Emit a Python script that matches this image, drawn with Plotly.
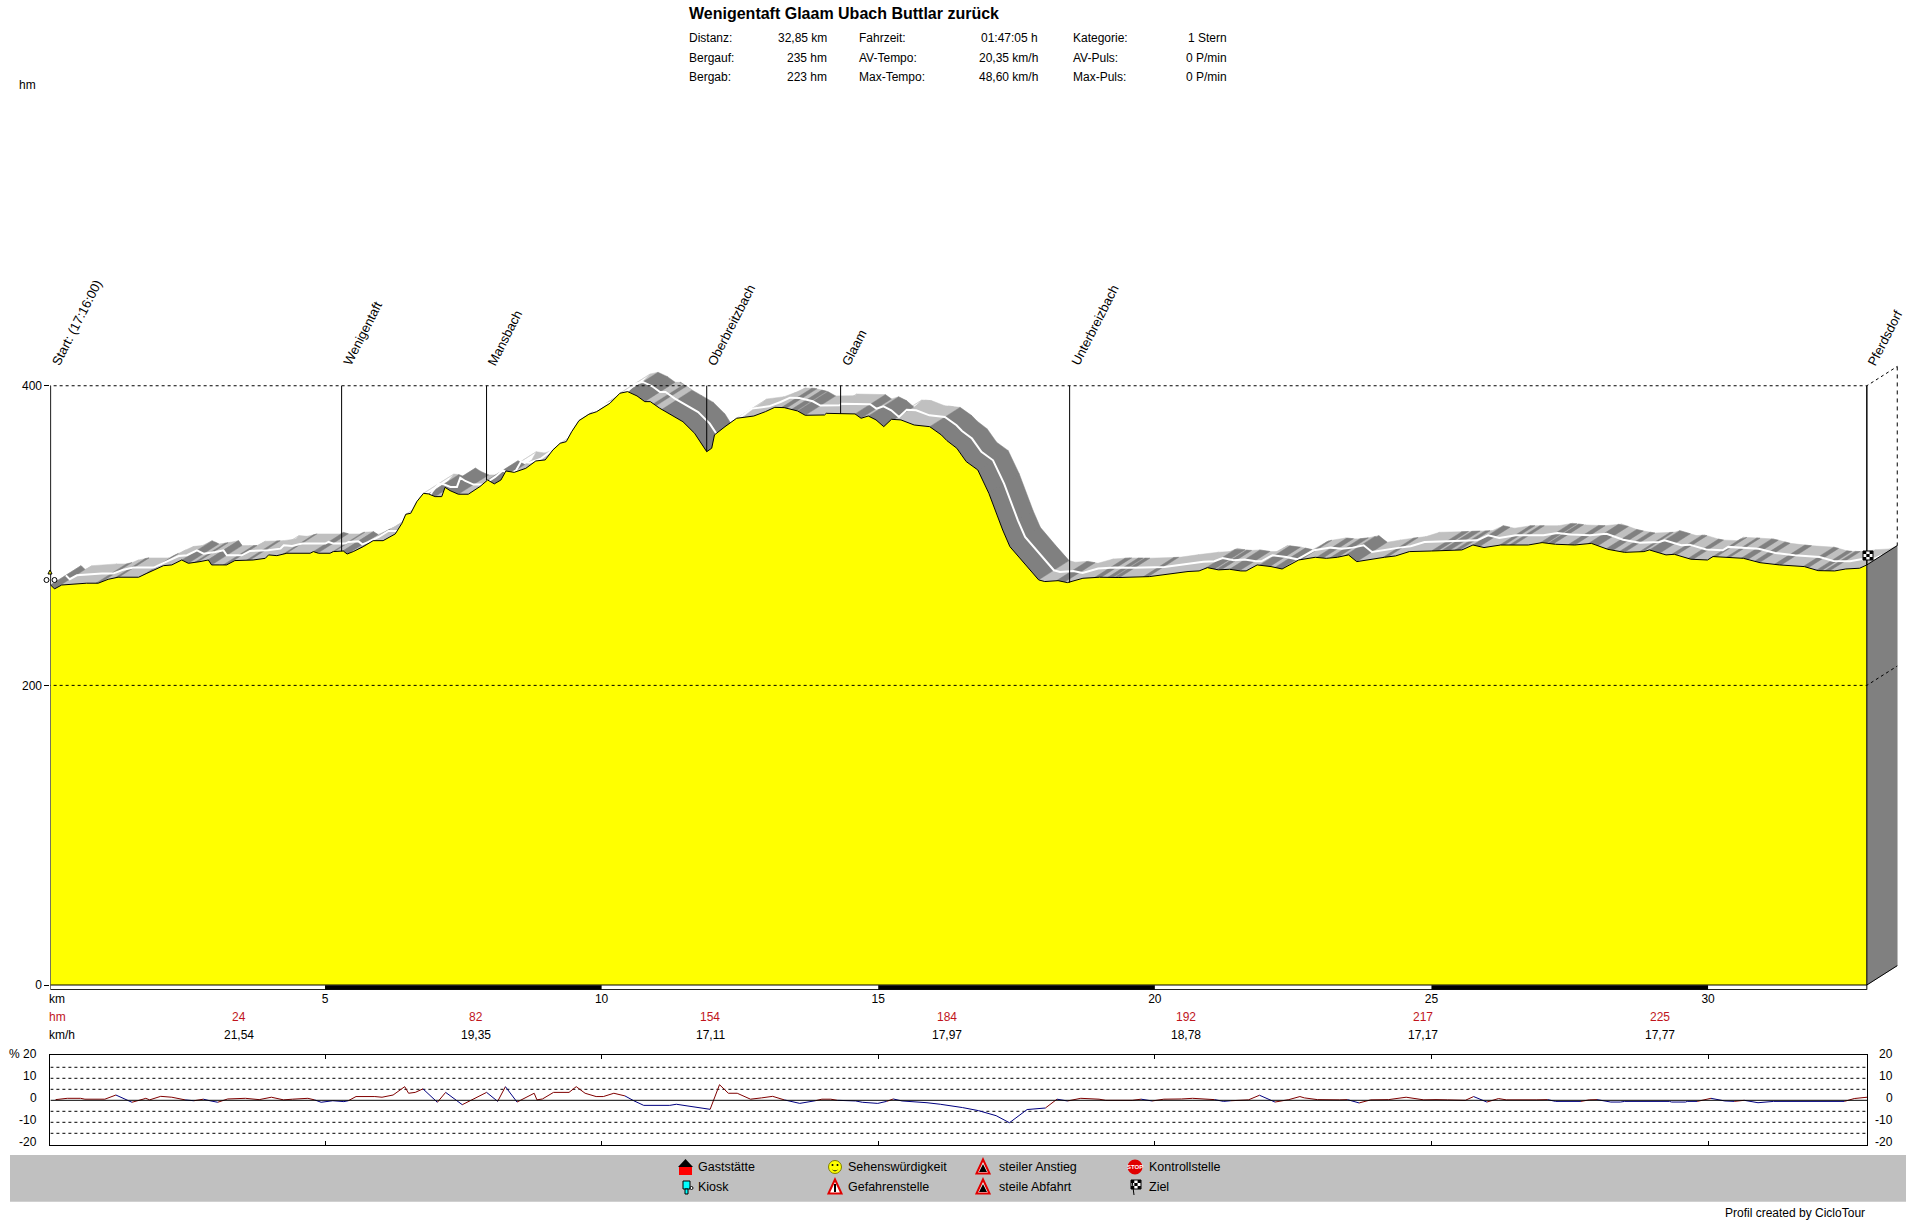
import numpy as np
import plotly.graph_objects as go

W, H = 1916, 1220
FONT = "Liberation Sans"

# ---------- data ----------
km = [0.04,0.11,0.24,0.69,0.90,1.08,1.26,1.63,1.78,1.93,2.08,2.23,2.41,2.53,2.62,2.74,2.89,2.95,3.10,3.22,3.37,3.70,3.92,3.98,4.13,4.31,4.73,4.79,4.88,5.09,5.15,5.33,5.40,5.51,5.69,5.87,6.05,6.27,6.39,6.46,6.55,6.66,6.78,6.87,6.99,7.11,7.17,7.26,7.41,7.59,7.80,7.94,8.06,8.18,8.27,8.42,8.63,8.81,8.98,9.12,9.25,9.36,9.46,9.59,9.77,9.91,10.15,10.33,10.47,10.64,10.78,10.88,11.05,11.26,11.47,11.68,11.81,11.90,11.99,12.04,12.23,12.44,12.75,12.96,13.13,13.30,13.54,13.68,14.03,14.06,14.58,14.69,14.82,14.96,15.10,15.24,15.41,15.65,15.93,16.14,16.24,16.42,16.59,16.80,17.00,17.25,17.38,17.66,17.90,18.01,18.25,18.42,18.70,19.00,19.35,19.90,20.25,20.60,20.80,20.95,21.15,21.35,21.55,21.65,21.85,22.10,22.30,22.60,22.90,23.10,23.30,23.50,23.65,23.90,24.15,24.35,24.60,25.00,25.55,25.75,25.95,26.25,26.75,27.00,27.24,27.59,27.89,28.19,28.49,28.84,28.94,29.24,29.39,29.69,29.99,30.09,30.34,30.64,30.94,31.29,31.74,31.99,32.29,32.49,32.74,32.87]
elevation = [267.0,264.4,267.0,268.2,268.2,270.8,272.2,272.2,274.8,277.5,279.9,280.4,283.7,281.5,281.9,282.6,283.7,280.4,280.4,280.4,283.3,283.7,284.8,287.1,286.6,288.2,288.2,289.3,288.2,288.2,289.3,289.7,287.7,289.3,292.6,296.6,296.6,301.1,308.2,314.2,314.9,322.7,328.2,327.8,326.0,326.0,332.2,330.0,327.6,327.6,332.7,337.1,334.5,337.1,343.1,342.2,344.9,349.8,350.5,357.2,361.6,362.7,369.4,376.7,381.0,382.7,388.3,395.0,396.1,393.2,389.4,389.4,385.0,380.5,376.0,368.3,360.5,356.0,358.3,367.2,372.7,378.3,379.8,382.7,385.6,385.4,383.2,380.3,380.5,381.6,381.2,378.3,379.8,377.2,372.7,377.6,377.2,373.8,372.7,367.2,363.4,358.3,349.4,343.8,328.2,303.7,292.6,280.4,270.4,269.3,269.9,268.6,271.5,272.2,272.0,272.6,274.4,276.0,276.4,278.6,277.1,277.5,276.4,276.4,280.4,279.3,277.7,283.7,285.5,284.8,285.5,287.1,282.6,284.2,285.5,286.4,289.3,289.7,290.4,293.7,292.0,293.7,293.7,295.3,294.2,293.7,294.8,290.8,288.8,289.3,290.4,287.1,287.5,284.2,283.7,286.0,285.5,284.8,281.9,280.4,279.3,276.6,276.4,277.7,278.2,280.4]

# short downhill stretches, visible as dark stripes on the road ribbon
dark_from = [0.04,0.86,1.20,1.71,2.46,2.64,2.88,3.16,3.58,4.24,4.78,5.11,5.32,5.57,13.25,13.43,18.22,18.91,19.15,19.27,19.79,20.90,21.11,21.35,21.89,22.17,22.56,22.92,23.16,23.43,24.12,25.00,25.18,25.42,25.75,26.23,26.41,26.96,27.11,27.47,27.83,28.16,28.40,28.76,28.94,29.34,29.64,30.03,30.33,30.60,30.84,31.20,31.72,31.96,32.11]
dark_to = [0.10,0.96,1.27,1.80,2.52,2.70,2.94,3.22,3.64,4.30,4.87,5.17,5.41,5.63,13.34,13.52,18.37,19.03,19.24,19.36,19.88,21.08,21.20,21.53,22.08,22.29,22.65,23.04,23.31,23.64,24.21,25.12,25.33,25.51,25.87,26.32,26.49,27.08,27.20,27.59,28.01,28.28,28.49,28.82,29.13,29.43,29.73,30.15,30.39,30.72,30.93,31.32,31.81,32.05,32.20]
# short uphill stretches inside the long descents, visible as light stripes
light_from = [10.81,10.99,15.30,15.72]
light_to = [10.93,11.08,15.39,15.81]

place_names = ["Start: (17:16:00)","Wenigentaft","Mansbach","Oberbreitzbach","Glaam","Unterbreizbach","Pferdsdorf"]
place_km = [0.04,5.30,7.92,11.90,14.32,18.46,32.87]
place_hm = [267.0,289.5,337.0,356.0,381.3,268.6,280.4]

km_ticks = [5,10,15,20,25,30]
black_km_from = [5,15,25]
black_km_to = [10,20,30]
hm_ticks = [0,200,400]

section_km = [3.44,7.73,11.96,16.25,20.56,24.84,29.14]
section_hm = ["24","82","154","184","192","217","225"]
section_speed = ["21,54","19,35","17,11","17,97","18,78","17,17","17,77"]

grad_km = [0.13,0.34,0.58,0.66,1.02,1.22,1.51,1.71,1.76,1.83,2.03,2.23,2.47,2.63,2.80,2.92,3.06,3.24,3.56,3.81,4.03,4.25,4.41,4.69,4.81,4.93,5.14,5.34,5.42,5.56,5.90,6.03,6.23,6.44,6.51,6.63,6.77,7.03,7.18,7.48,7.92,8.12,8.26,8.47,8.78,8.83,8.93,9.13,9.41,9.54,9.70,9.90,10.03,10.22,10.42,10.58,10.76,11.23,11.35,11.56,11.96,12.13,12.29,12.45,12.69,12.89,13.09,13.30,13.58,13.86,13.98,14.14,14.26,14.59,14.71,14.99,15.15,15.27,15.43,15.88,16.12,16.52,16.81,17.13,17.37,17.69,18.02,18.23,18.42,18.66,18.99,19.11,19.59,19.75,19.95,20.16,20.48,20.68,21.08,21.24,21.37,21.69,21.89,22.17,22.42,22.62,22.70,22.94,23.34,23.48,23.69,23.90,24.22,24.54,24.86,25.08,25.29,25.61,25.76,26.00,26.21,26.35,26.89,27.10,27.24,27.70,27.85,27.99,28.24,28.41,28.49,29.30,29.34,29.59,29.62,29.80,30.05,30.30,30.47,30.65,30.90,31.18,32.46,32.64,32.87]
grad_pct = [0.3,0.9,0.9,0.5,0.5,2.4,-0.9,0.5,0.9,0.2,1.8,1.4,0.2,-0.2,0.5,-0.2,-0.9,0.6,0.9,0.3,1.4,0.2,0.5,0.9,0.2,-0.9,-0.2,-0.6,-0.2,1.7,1.7,1.4,2.4,6.2,3.2,3.6,5.2,-0.9,3.6,-2.0,3.6,-0.5,6.2,-0.8,3.2,0.2,0.6,3.6,3.6,6.2,3.2,1.7,1.7,3.2,2.0,-0.2,-2.3,-2.3,-1.8,-2.6,-4.1,7.1,3.2,3.2,0.5,1.1,1.8,0.2,-1.4,-0.2,0.5,0.5,0.0,-0.3,-0.9,-1.4,-0.5,0.6,-0.3,-1.1,-1.8,-3.3,-4.7,-7.0,-10.2,-4.2,-3.5,0.5,-0.3,0.9,0.5,0.0,0.0,0.5,-0.3,0.5,0.6,0.9,0.3,-0.5,-0.2,0.2,2.3,-0.8,0.3,1.7,1.1,0.3,0.2,0.3,-1.2,0.2,0.3,1.4,0.2,0.3,0.2,0.0,1.7,-0.8,0.8,0.2,0.2,0.3,-0.5,-0.5,0.2,0.3,-0.8,-0.8,-0.5,-0.5,-0.8,-0.8,-0.5,-0.5,0.9,-0.3,-0.5,0.0,-1.1,-0.5,-0.5,0.8,1.4]
grad_guides = [15,10,5,-5,-10,-15]
grad_ticks = [-20,-10,0,10,20]
grad_left_text = ["-20","-10","0","10","% 20"]
grad_right_text = ["-20","-10","0","10","20"]

title_text = "Wenigentaft Glaam Ubach Buttlar zurück"
stat_labels = [["Distanz:","Bergauf:","Bergab:"],["Fahrzeit:","AV-Tempo:","Max-Tempo:"],["Kategorie:","AV-Puls:","Max-Puls:"]]
stat_values = [["32,85 km","235 hm","223 hm"],["01:47:05 h","20,35 km/h","48,60 km/h"],["1 Stern","0 P/min","0 P/min"]]
legend_rows = [["Gaststätte","Sehenswürdigkeit","steiler Anstieg","Kontrollstelle"],["Kiosk","Gefahrenstelle","steile Abfahrt","Ziel"]]

# ---------- layout helpers ----------
def px(x): return x / W
def py(y): return 1 - y / H

DK, DH = 0.55, 12.9   # depth of the 3-D road ribbon, in axis units
X0, X1 = 0.036, 32.87
RED = "#C0141C"
LIGHT, DARK = "#C0C0C0", "#808080"
STEEP = 15            # hm per km falling before a whole segment shades dark

fig = go.Figure()

def add(x, y, **kw):
    fig.add_trace(go.Scatter(x=x, y=y, hoverinfo="skip", showlegend=False, **kw))

def elev_at(k):
    return float(np.interp(k, km, elevation))

# ribbon
qx = {LIGHT: [], DARK: []}
qy = {LIGHT: [], DARK: []}
def quad(c, a, ea, b, eb):
    qx[c] += [a, b, b + DK, a + DK, a, None]
    qy[c] += [ea, eb, eb + DH, ea + DH, ea, None]
for i in range(len(km) - 1):
    rate = (elevation[i] - elevation[i + 1]) / (km[i + 1] - km[i])
    quad(DARK if rate > STEEP else LIGHT, km[i], elevation[i], km[i + 1], elevation[i + 1])
for a, b in zip(dark_from, dark_to):
    quad(DARK, a, elev_at(a), b, elev_at(b))
for c in (LIGHT, DARK):
    add(qx[c], qy[c], mode="lines", fill="toself", fillcolor=c, line=dict(color=c, width=0.5))
sx, sy = [], []
for a, b in zip(light_from, light_to):
    sx += [a, b, b + DK, a + DK, a, None]
    sy += [elev_at(a), elev_at(b), elev_at(b) + DH, elev_at(a) + DH, elev_at(a), None]
add(sx, sy, mode="lines", fill="toself", fillcolor=LIGHT, line=dict(color=LIGHT, width=0.5))
add([k + DK / 2 for k in km], [e + DH / 2 for e in elevation], mode="lines", line=dict(color="white", width=2))

# terrain
add(km, elevation, mode="lines", fill="tozeroy", fillcolor="#FFFF00", line=dict(color="black", width=1))

# side wall of the box
end_e = elevation[-1]
add([X1, X1 + DK, X1 + DK, X1, X1], [0, DH, end_e + DH, end_e, 0], mode="lines", fill="toself",
    fillcolor=DARK, line=dict(color=DARK, width=0.5))
add([X1, X1 + DK], [0, DH], mode="lines", line=dict(color="black", width=1))
add([X1, X1 + DK], [end_e, end_e + DH], mode="lines", line=dict(color="black", width=1))

# dashed levels, incl. depth lines
for lv in (400, 200):
    add([X0 - 0.05, X1, X1 + DK], [lv, lv, lv + DH], mode="lines", line=dict(color="black", width=1, dash="3px,3px"))
add([X1 + DK, X1 + DK], [400 + DH, end_e + DH], mode="lines", line=dict(color="black", width=1, dash="4px,4px"))

# place markers
for k, h in zip(place_km, place_hm):
    add([k, k], [400, h], mode="lines", line=dict(color="black", width=1))
add([X0, X0], [0, 400], mode="lines", line=dict(color="black", width=1))
add([X1, X1], [0, 400], mode="lines", line=dict(color="black", width=1))

# km strip
add([X0, X1, X1, X0, X0], [0, 0, -3.1, -3.1, 0], mode="lines", line=dict(color="black", width=1))
bx, by = [], []
for a, b in zip(black_km_from, black_km_to):
    bx += [a, b, None]
    by += [-1.6, -1.6, None]
add(bx, by, mode="lines", line=dict(color="black", width=4.5))

# gradient panel
for g in grad_guides:
    add([X0, X1], [g, g], mode="lines", xaxis="x2", yaxis="y2", line=dict(color="black", width=1, dash="3px,3px"))
rx, ry, nx, ny = [], [], [], []
for i in range(len(grad_km) - 1):
    if grad_pct[i + 1] >= 0:
        rx += [grad_km[i], grad_km[i + 1], None]
        ry += [grad_pct[i], grad_pct[i + 1], None]
    else:
        nx += [grad_km[i], grad_km[i + 1], None]
        ny += [grad_pct[i], grad_pct[i + 1], None]
add(rx, ry, mode="lines", xaxis="x2", yaxis="y2", line=dict(color="#800000", width=1))
add(nx, ny, mode="lines", xaxis="x2", yaxis="y2", line=dict(color="#000080", width=1))
add([X0, X1], [0, 0], mode="lines", xaxis="x2", yaxis="y2", line=dict(color="black", width=1))

# ---------- annotations ----------
ann = []
def text(x, y, s, size=12, color="black", anchor="left", bold=False):
    ann.append(dict(x=px(x), y=py(y), xref="paper", yref="paper", text=f"<b>{s}</b>" if bold else s,
                    showarrow=False, xanchor=anchor, yanchor="middle", borderpad=0,
                    font=dict(family=FONT, size=size, color=color)))

text(688, 13.5, title_text, size=16, bold=True)
rows_y = [38, 58, 77.5]
lab_x = [688, 858, 1072]
val_x = [828, 1039, 1228]
for c in range(3):
    for r in range(3):
        text(lab_x[c], rows_y[r], stat_labels[c][r])
        text(val_x[c], rows_y[r], stat_values[c][r], anchor="right")
text(18, 85, "hm")
text(48, 999, "km")
text(48, 1017, "hm", color=RED)
text(48, 1035, "km/h")
for k, h, s in zip(section_km, section_hm, section_speed):
    ann.append(dict(x=k, y=py(1017), xref="x", yref="paper", text=h, showarrow=False,
                    font=dict(family=FONT, size=12, color=RED), yanchor="middle"))
    ann.append(dict(x=k, y=py(1035), xref="x", yref="paper", text=s, showarrow=False,
                    font=dict(family=FONT, size=12, color="black"), yanchor="middle"))
for n, k in zip(place_names, place_km):
    ann.append(dict(x=k, y=411, xref="x", yref="y", text=n, textangle=-63, showarrow=False, xanchor="left",
                    yanchor="bottom", borderpad=0, xshift=-3, font=dict(family=FONT, size=13, color="black")))
for g, l, r in zip(grad_ticks, grad_left_text, grad_right_text):
    ann.append(dict(x=px(39), xref="paper", y=g, yref="y2", yshift=2, text=l, showarrow=False, xanchor="right",
                    yanchor="middle", font=dict(family=FONT, size=12, color="black")))
    ann.append(dict(x=px(1895), xref="paper", y=g, yref="y2", yshift=2, text=r, showarrow=False, xanchor="right",
                    yanchor="middle", font=dict(family=FONT, size=12, color="black")))
text(1866, 1213, "Profil created by CicloTour", anchor="right")

# legend
leg_x = [697, 847, 998, 1148]
leg_y = [1167, 1187]
for r in range(2):
    for c in range(4):
        text(leg_x[c], leg_y[r], legend_rows[r][c], size=12.5)

# ---------- shapes ----------
shapes = [dict(type="rect", xref="paper", yref="paper", x0=px(10), x1=px(1906), y0=py(1155), y1=py(1201.7),
               fillcolor="#C0C0C0", line=dict(width=0), layer="below")]

def rect(x0, y0, x1, y1, fill, line=None):
    shapes.append(dict(type="rect", xref="paper", yref="paper", x0=px(x0), x1=px(x1), y0=py(y0), y1=py(y1),
                       fillcolor=fill, line=dict(width=1 if line else 0, color=line or fill)))
def poly(pts, fill, line=None, lw=1):
    d = "M" + "L".join(f"{px(a):.5f},{py(b):.5f}" for a, b in pts) + "Z"
    shapes.append(dict(type="path", xref="paper", yref="paper", path=d, fillcolor=fill,
                       line=dict(width=lw if line else 0, color=line or fill)))
def circ(cx, cy, r, fill, line=None):
    shapes.append(dict(type="circle", xref="paper", yref="paper", x0=px(cx - r), x1=px(cx + r), y0=py(cy - r),
                       y1=py(cy + r), fillcolor=fill, line=dict(width=1 if line else 0, color=line or fill)))
def flag(x, y):
    rect(x, y, x + 10, y + 9, "white", "black")
    for i in range(3):
        for j in range(3):
            if (i + j) % 2 == 0:
                rect(x + i * 3.3, y + j * 3, x + (i + 1) * 3.3, y + (j + 1) * 3, "black")

# house
rect(679, 1167, 692, 1175, "#FF0000")
poly([(678, 1167), (685.5, 1159), (693, 1167)], "black")
# kiosk cup
rect(683, 1181, 690, 1189, "#00FFFF", "black")
rect(685, 1189, 688, 1194, "#00FFFF", "black")
circ(691.5, 1188, 1.5, "white", "black")
# smiley
circ(835, 1167, 6.5, "#FFFF00", "#808000")
circ(832.5, 1165, 1, "black")
circ(837.5, 1165, 1, "black")
poly([(831.5, 1169.5), (835, 1171.5), (838.5, 1169.5), (835, 1170.5)], "black")
# warning triangles
for cx, cy, inner in ((835, 1187, "white"), (983, 1167, "black"), (983, 1187, "black")):
    poly([(cx - 6.5, cy + 6.5), (cx, cy - 7.5), (cx + 6.5, cy + 6.5)], "white", "#E00000", 2)
    if inner == "black":
        poly([(cx - 4, cy + 5), (cx, cy - 3), (cx + 4, cy + 5)], "black")
    else:
        rect(cx - 1, cy - 3, cx + 1, cy + 5, "black")
# stop sign
circ(1135, 1167, 7.5, "#E00000")
ann.append(dict(x=px(1135), y=py(1167), xref="paper", yref="paper", text="<b>STOP</b>", showarrow=False,
                yanchor="middle", xanchor="center", font=dict(family=FONT, size=6, color="white")))
# finish flag in legend and on the profile
flag(1131, 1180)
shapes.append(dict(type="line", xref="paper", yref="paper", x0=px(1132), x1=px(1134), y0=py(1180), y1=py(1195),
                   line=dict(color="black", width=1)))
flag(1863, 551)
# bicycle at the start
circ(46.5, 580, 2.5, "white", "black")
circ(54.5, 580, 2.5, "white", "black")
poly([(48, 574), (52, 574), (50, 570)], "#FFFF00", "black")

# ---------- figure ----------
fig.update_layout(
    width=W, height=H, margin=dict(l=0, r=0, t=0, b=0, pad=0, autoexpand=False),
    paper_bgcolor="white", plot_bgcolor="rgba(0,0,0,0)",
    showlegend=False, annotations=ann, shapes=shapes,
    xaxis=dict(domain=[px(50.4), px(1905)], range=[X0, 33.56], tickvals=km_ticks, ticks="", showgrid=False,
               zeroline=False, showline=False, tickfont=dict(family=FONT, size=12, color="black"), anchor="y"),
    yaxis=dict(domain=[py(990), py(280)], range=[-3.34, 470.6], tickvals=hm_ticks, ticks="outside", ticklen=5,
               tickcolor="black", showgrid=False, zeroline=False, showline=False,
               tickfont=dict(family=FONT, size=12, color="black"), anchor="x"),
    xaxis2=dict(domain=[px(50.4), px(1867)], range=[X0, X1], tickvals=km_ticks, ticks="inside", ticklen=4,
                tickcolor="black", showticklabels=False, showgrid=False, zeroline=False, showline=True,
                linecolor="black", mirror="ticks", anchor="y2"),
    yaxis2=dict(domain=[py(1145.3), py(1055.3)], range=[-20.45, 20.45], tickvals=grad_ticks, ticks="",
                showticklabels=False, showgrid=False, zeroline=False, showline=True,
                linecolor="black", mirror=True, anchor="x2"),
)

fig.write_html("out.html", config={"displayModeBar": False},
               post_script="document.body.style.margin='0';document.body.style.overflow='hidden';")
